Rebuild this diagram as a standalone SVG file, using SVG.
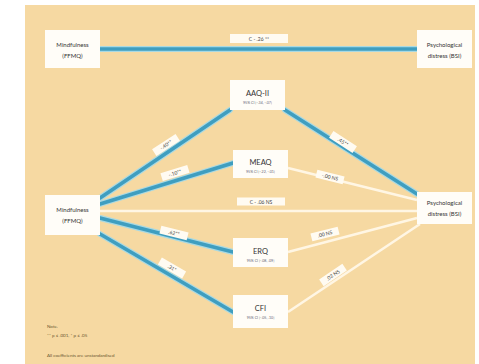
<svg xmlns="http://www.w3.org/2000/svg" width="479" height="364" viewBox="0 0 479 364">
<style>
.node{fill:#fffdf8;}
.t{font-family:Lato,"Open Sans",sans-serif;fill:#333;text-anchor:middle;}
.big{font-size:7.5px;}
.mid{font-size:6px;}
.sub{font-size:3.6px;fill:#667;}
.lbl{fill:#fffbf2;}
.lt{font-family:Lato,"Open Sans",sans-serif;font-size:5px;fill:#444;text-anchor:middle;}
.halo{stroke:#a9d9e2;stroke-width:6;fill:none;stroke-linecap:round;}
.teal{stroke:#3f9ec0;stroke-width:3.6;fill:none;stroke-linecap:round;}
.wl{stroke:#fff6e4;stroke-width:2.6;fill:none;}
.note{font-family:Lato,"Open Sans",sans-serif;font-size:4.5px;fill:#6a5530;}
</style>
<rect x="0" y="0" width="479" height="364" fill="#ffffff"/>
<rect x="25" y="5" width="450" height="359" fill="#f6d9a2"/>
<g id="connectors">
<line class="halo" x1="100" y1="49" x2="417" y2="49"/>
<line class="teal" x1="100" y1="49" x2="417" y2="49"/>
<line class="wl" x1="100" y1="211" x2="417" y2="211"/>
<path class="halo" d="M100 198 L230 110 M100 204 L233 163 M100 218 L233 252 M100 234 L233 312 M285 110 L417 194"/>
<path class="teal" d="M100 198 L230 110 M100 204 L233 163 M100 218 L233 252 M100 234 L233 312 M285 110 L417 194"/>
<path class="wl" d="M288 168 L417 200 M288 252 L417 218 M288 312 L420 224"/>
</g>
<g id="labels">
<g transform="translate(259,39)"><rect class="lbl" x="-29" y="-5" width="58" height="9"/><text class="lt" y="1.8">C - .26 **</text></g>
<g transform="translate(261,202)"><rect class="lbl" x="-24" y="-4.5" width="48" height="8"/><text class="lt" y="1.8">C - .06 NS</text></g>
<g transform="translate(166,145) rotate(-33)"><rect class="lbl" x="-14" y="-4" width="28" height="8"/><text class="lt" y="1.8">-.40**</text></g>
<g transform="translate(175,173) rotate(-17)"><rect class="lbl" x="-14" y="-4" width="28" height="8"/><text class="lt" y="1.8">-.10**</text></g>
<g transform="translate(174,233) rotate(14)"><rect class="lbl" x="-14" y="-4" width="28" height="8"/><text class="lt" y="1.8">.62**</text></g>
<g transform="translate(172,268) rotate(30)"><rect class="lbl" x="-14" y="-4" width="28" height="8"/><text class="lt" y="1.8">.31*</text></g>
<g transform="translate(343,142) rotate(33)"><rect class="lbl" x="-14" y="-4" width="28" height="8"/><text class="lt" y="1.8">.45**</text></g>
<g transform="translate(330,177) rotate(14)"><rect class="lbl" x="-14" y="-4" width="28" height="8"/><text class="lt" y="1.8">-.00 NS</text></g>
<g transform="translate(325,234) rotate(-14)"><rect class="lbl" x="-14" y="-4" width="28" height="8"/><text class="lt" y="1.8">.00 NS</text></g>
<g transform="translate(333,275) rotate(-34)"><rect class="lbl" x="-14" y="-4" width="28" height="8"/><text class="lt" y="1.8">.02 NS</text></g>
</g>
<g id="mind-top"><rect class="node" x="45" y="30" width="55" height="38"/><text class="t mid" x="72.5" y="47">Mindfulness</text><text class="t mid" x="72.5" y="58">(FFMQ)</text></g>
<g id="psych-top"><rect class="node" x="417" y="30" width="55" height="38"/><text class="t mid" x="444.5" y="47">Psychological</text><text class="t mid" x="444.5" y="58">distress (BSI)</text></g>
<g id="mind-mid"><rect class="node" x="45" y="195" width="55" height="40"/><text class="t mid" x="72.5" y="212">Mindfulness</text><text class="t mid" x="72.5" y="223">(FFMQ)</text></g>
<g id="psych-mid"><rect class="node" x="417" y="192" width="55" height="32"/><text class="t mid" x="444.5" y="205">Psychological</text><text class="t mid" x="444.5" y="216">distress (BSI)</text></g>
<g id="aaq"><rect class="node" x="230" y="80" width="55" height="30"/><text class="t big" x="257.5" y="96">AAQ-II</text><text class="t sub" x="257.5" y="104">95% CI [-.34, -.07]</text></g>
<g id="meaq"><rect class="node" x="233" y="150" width="55" height="28"/><text class="t big" x="260.5" y="165">MEAQ</text><text class="t sub" x="260.5" y="173">95% CI [-.22, -.01]</text></g>
<g id="erq"><rect class="node" x="233" y="238" width="55" height="29"/><text class="t big" x="260.5" y="254">ERQ</text><text class="t sub" x="260.5" y="262">95% CI [-.08, .09]</text></g>
<g id="cfi"><rect class="node" x="233" y="295" width="55" height="33"/><text class="t big" x="260.5" y="311">CFI</text><text class="t sub" x="260.5" y="319">95% CI [-.05, .10]</text></g>
<g id="note">
<text class="note" x="47" y="328">Note.</text>
<text class="note" x="47" y="337">** p ≤ .001, * p ≤ .05</text>
<text class="note" x="47" y="357">All coefficients are unstandardised</text>
</g>
</svg>
